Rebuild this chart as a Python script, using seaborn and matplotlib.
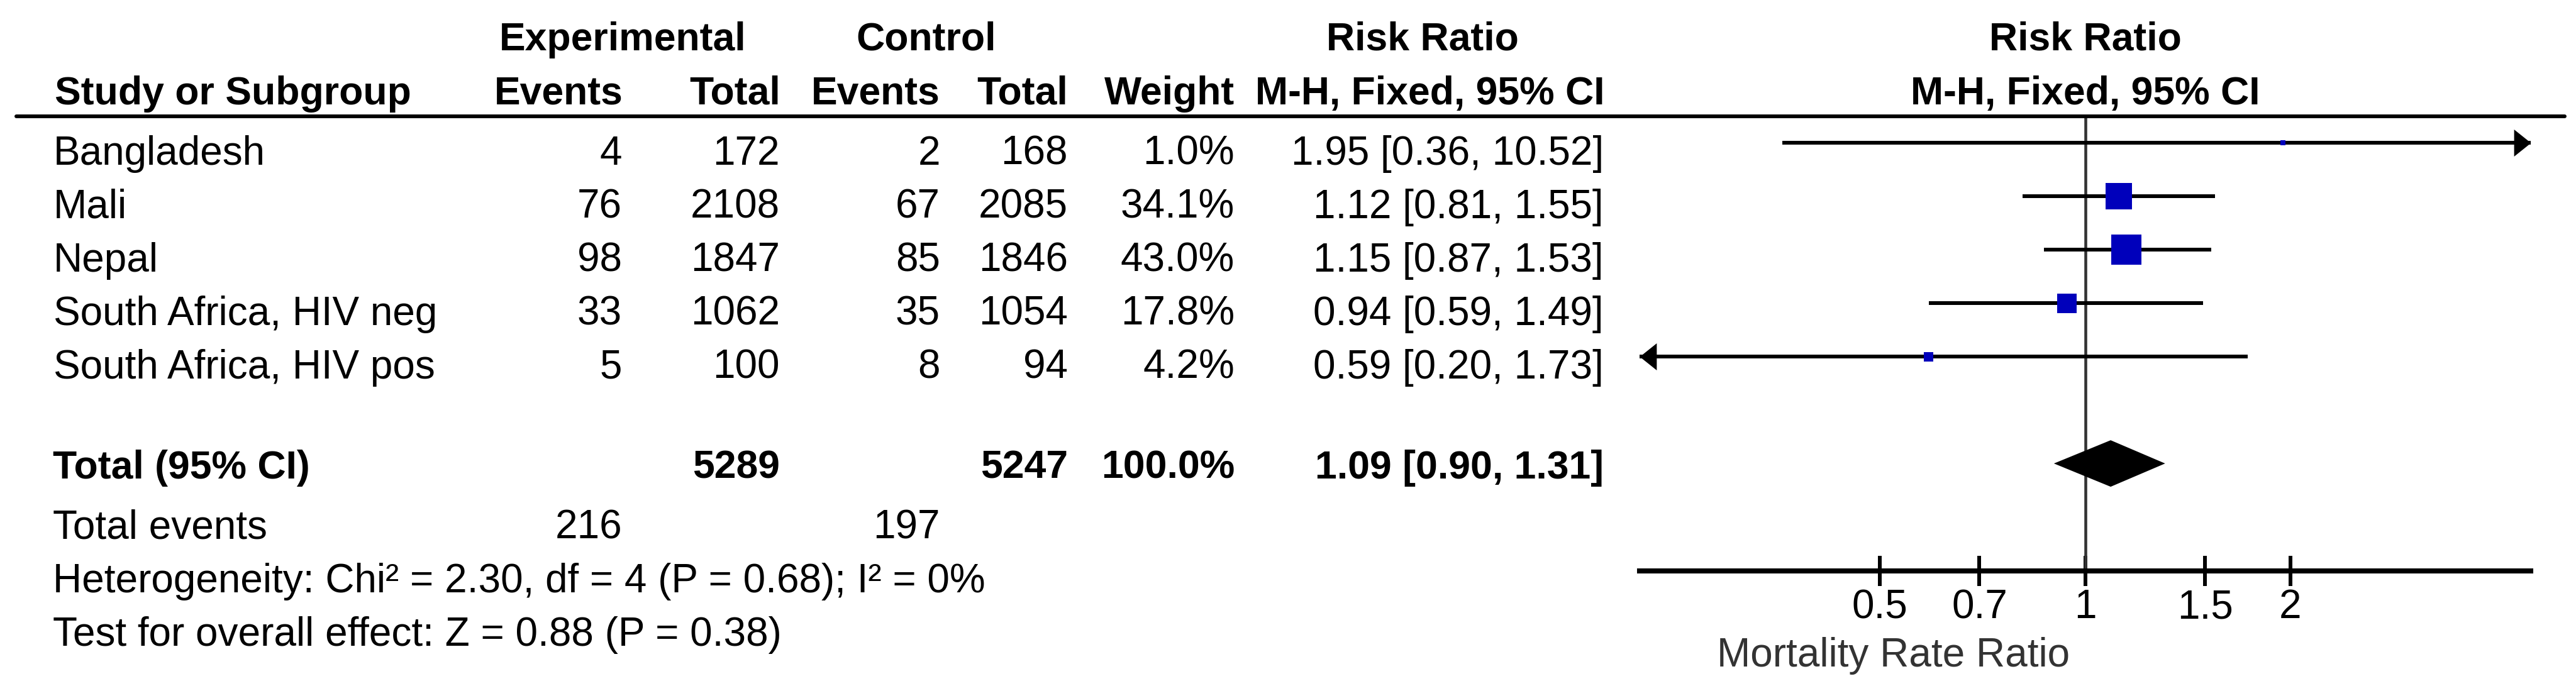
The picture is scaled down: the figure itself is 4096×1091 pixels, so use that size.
import numpy as np
import pandas as pd
import matplotlib.pyplot as plt
import matplotlib.transforms as mtransforms
from matplotlib.lines import Line2D
from matplotlib.ticker import NullLocator
import seaborn as sns

# study level data
studies = ["Bangladesh", "Mali", "Nepal", "South Africa, HIV neg", "South Africa, HIV pos"]
exp_events = [4, 76, 98, 33, 5]
exp_total = [172, 2108, 1847, 1062, 100]
ctl_events = [2, 67, 85, 35, 8]
ctl_total = [168, 2085, 1846, 1054, 94]
weights = [1.0, 34.1, 43.0, 17.8, 4.2]
rr = [1.95, 1.12, 1.15, 0.94, 0.59]
rr_lo = [0.36, 0.81, 0.87, 0.59, 0.20]
rr_hi = [10.52, 1.55, 1.53, 1.49, 1.73]

# pooled result
total_exp = 5289
total_ctl = 5247
total_weight = 100.0
total_rr, total_lo, total_hi = 1.09, 0.90, 1.31
events_exp, events_ctl = 216, 197
heterogeneity = "Heterogeneity: Chi² = 2.30, df = 4 (P = 0.68); I² = 0%"
overall = "Test for overall effect: Z = 0.88 (P = 0.38)"

tick_values = [0.5, 0.7, 1, 1.5, 2]
tick_labels = ["0.5", "0.7", "1", "1.5", "2"]
x_limits = (1 / 4.5, 4.5)
x_label = "Mortality Rate Ratio"

W, H = 4096, 1091

sns.set_theme(style="white")
plt.rcParams["font.family"] = ["Liberation Sans", "DejaVu Sans"]

fig = plt.figure(figsize=(W / 100, H / 100), dpi=100)
ax = fig.add_axes([2607 / W, 1 - 908 / H, (4024 - 2607) / W, (908 - 185) / H])

rows = np.arange(len(studies))
df = pd.DataFrame({"study": studies, "rr": rr, "lo": rr_lo, "hi": rr_hi,
                   "weight": weights, "row": rows})

# confidence intervals, clipped to the axis with arrows where they run off
lo_c = df["lo"].clip(*x_limits)
hi_c = df["hi"].clip(*x_limits)
ax.hlines(df["row"], lo_c, hi_c, color="black", lw=4.3, zorder=2)

right_head = [(0, 0), (-1.25, 1), (-1.25, -1)]
left_head = [(0, 0), (1.25, 1), (1.25, -1)]
over = df["hi"] > x_limits[1]
under = df["lo"] < x_limits[0]
ax.plot(np.full(over.sum(), x_limits[1]), df.loc[over, "row"], ls="none",
        marker=right_head, ms=38.7, color="black", mew=0, clip_on=False, zorder=3)
ax.plot(np.full(under.sum(), x_limits[0]), df.loc[under, "row"], ls="none",
        marker=left_head, ms=38.7, color="black", mew=0, clip_on=False, zorder=3)

# weighted squares
sns.scatterplot(data=df, x="rr", y="row", size="weight", sizes=(0, 1195),
                size_norm=(0, 43), marker="s", color="#0000BB", linewidth=0,
                legend=False, ax=ax, zorder=4)

# pooled diamond
total_row = len(studies) + 1
ax.fill([total_lo, total_rr, total_hi, total_rr],
        [total_row, total_row - 0.435, total_row, total_row + 0.435],
        color="black", lw=0, zorder=3)

ax.axvline(1, color="#333333", lw=3.3, zorder=1)

ax.set_xscale("log")
ax.set_xlim(*x_limits)
ax.set_ylim(8.01, -0.494)
ax.set_xticks(tick_values)
ax.set_xticklabels(tick_labels)
ax.xaxis.set_minor_locator(NullLocator())
ax.set_yticks([])
ax.set_xlabel("")
ax.set_ylabel("")
ax.tick_params(axis="x", bottom=True, direction="inout", length=34.6, width=4.3,
               labelsize=46, pad=3, color="black", labelcolor="black")
for side in ["top", "left", "right"]:
    ax.spines[side].set_visible(False)
ax.spines["bottom"].set_linewidth(5.8)
ax.spines["bottom"].set_color("black")
ax.patch.set_alpha(0)

fig.text(2730 / W, 1 - 1060 / H, x_label, fontsize=46, color="#333333", va="baseline")

# table on the left
row_tf = mtransforms.blended_transform_factory(fig.transFigure, ax.transData)
hdr_tf = mtransforms.blended_transform_factory(ax.transData, ax.transData)


def put(x, row, s, ha="right", bold=False, tf=row_tf):
    ax.text(x / W if tf is row_tf else x, row, s, transform=tf, ha=ha,
            va="baseline", fontsize=45 if bold else 46,
            fontweight="bold" if bold else "normal", color="black")


# headers
put(990, -1.73, "Experimental", ha="center", bold=True)
put(1473, -1.73, "Control", ha="center", bold=True)
put(2262, -1.73, "Risk Ratio", ha="center", bold=True)
put(87, -0.72, "Study or Subgroup", ha="left", bold=True)
put(991, -0.72, "Events", bold=True)
put(1241, -0.72, "Total", bold=True)
put(1495, -0.72, "Events", bold=True)
put(1698, -0.72, "Total", bold=True)
put(1963, -0.72, "Weight", bold=True)
put(2552, -0.72, "M-H, Fixed, 95% CI", bold=True)
put(1, -1.73, "Risk Ratio", ha="center", bold=True, tf=hdr_tf)
put(1, -0.72, "M-H, Fixed, 95% CI", ha="center", bold=True, tf=hdr_tf)

fig.add_artist(Line2D([26 / W, 4078 / W], [1 - 185 / H] * 2,
                      transform=fig.transFigure, color="black", lw=4.3))

for i in rows:
    y = i + 0.41
    put(85, y, studies[i], ha="left")
    put(989, y, str(exp_events[i]))
    put(1240, y, str(exp_total[i]))
    put(1495, y, str(ctl_events[i]))
    put(1698, y, str(ctl_total[i]))
    put(1963, y, f"{weights[i]:.1f}%")
    put(2550, y, f"{rr[i]:.2f} [{rr_lo[i]:.2f}, {rr_hi[i]:.2f}]")

put(84, 6.28, "Total (95% CI)", ha="left", bold=True)
put(1240, 6.28, str(total_exp), bold=True)
put(1698, 6.28, str(total_ctl), bold=True)
put(1963, 6.28, f"{total_weight:.1f}%", bold=True)
put(2550, 6.28, f"{total_rr:.2f} [{total_lo:.2f}, {total_hi:.2f}]", bold=True)

put(84, 7.40, "Total events", ha="left")
put(989, 7.40, str(events_exp))
put(1495, 7.40, str(events_ctl))
put(84, 8.41, heterogeneity, ha="left")
put(84, 9.41, overall, ha="left")

fig.savefig("out.png", dpi=100)
